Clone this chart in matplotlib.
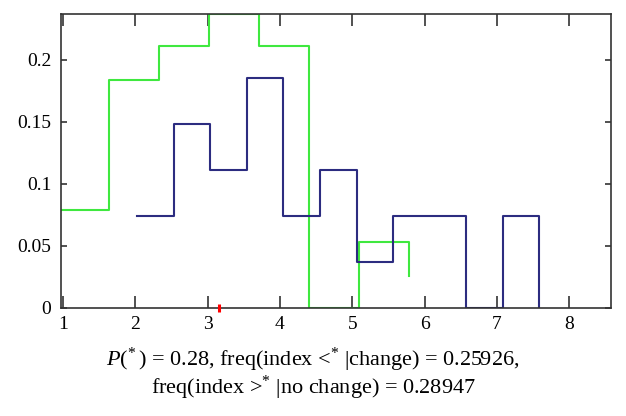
import numpy as np
import matplotlib
matplotlib.use('Agg')
import matplotlib.pyplot as plt

# histogram-like frequency stairs
green_x = [0.95, 1.64, 2.33, 3.02, 3.71, 4.40, 5.09, 5.78]
green_y = [0.079, 0.184, 0.211, 0.237, 0.211, 0.0, 0.053, 0.026]

blue_x = [2.02, 2.53, 3.03, 3.54, 4.04, 4.55, 5.06, 5.56, 6.07, 6.57, 7.08, 7.58]
blue_y = [0.074, 0.148, 0.111, 0.185, 0.074, 0.111, 0.037, 0.074, 0.074, 0.0, 0.074, 0.0]

star_x = [3.16]
star_y = [0.0]

x_ticks = [1, 2, 3, 4, 5, 6, 7, 8]
y_ticks = [0, 0.05, 0.1, 0.15, 0.2]
y_ticklabels = ['0', '0.05', '0.1', '0.15', '0.2']

caption_1 = r"$P$(${}^{*}\,$) = 0.28, freq(index <${}^{*}$ |change) = 0.25926,"
caption_2 = r"freq(index >${}^{*}$ |no change) = 0.28947"

plt.rcParams['font.family'] = ['Liberation Serif', 'DejaVu Serif']
plt.rcParams['mathtext.fontset'] = 'custom'
plt.rcParams['mathtext.rm'] = 'Liberation Serif'
plt.rcParams['mathtext.it'] = 'Liberation Serif:italic'

fig = plt.figure(figsize=(6.26, 4.16), dpi=100)
ax = fig.add_axes([61 / 626, 1 - 308 / 416, 550 / 626, 294 / 416])

ax.step(green_x, green_y, where='post', color='#3fe83f', linewidth=1.5)
ax.step(blue_x, blue_y, where='post', color='#2c2c80', linewidth=1.5)
# red mark on the x axis
ax.plot(star_x, star_y, linestyle='none', marker='|', markersize=6,
        markeredgewidth=2.2, color='red', clip_on=False, zorder=7)

ax.set_xlim(0.97, 8.58)
ax.set_ylim(0, 0.2368)
ax.set_xticks(x_ticks)
ax.set_yticks(y_ticks)
ax.set_yticklabels(y_ticklabels)

for s in ax.spines.values():
    s.set_color('#333333')
    s.set_linewidth(1.2)
    s.set_zorder(6)

ax.tick_params(axis='x', direction='in', top=True, length=8.5, width=1.2,
               color='#333333', labelsize=14, pad=6)
ax.tick_params(axis='y', direction='in', right=True, length=4.3, width=1.2,
               color='#333333', labelsize=14, pad=7)

fig.text(0.5, 1 - 360 / 416, caption_1, ha='center', va='center', fontsize=16)
fig.text(0.5, 1 - 388 / 416, caption_2, ha='center', va='center', fontsize=16)

fig.savefig('out.png', dpi=100)
